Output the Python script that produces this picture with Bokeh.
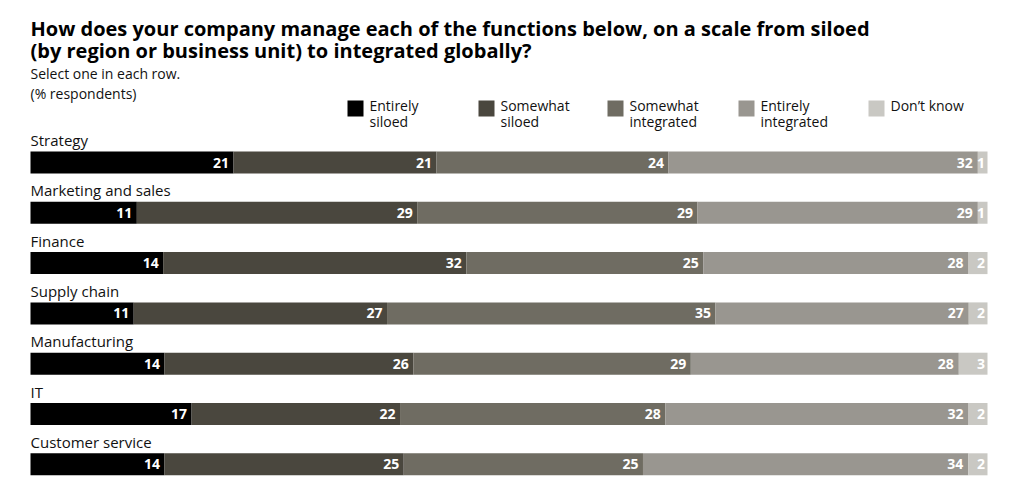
from bokeh.plotting import figure
from bokeh.models import Range1d, Label, ColumnDataSource
from bokeh.core.properties import value
from bokeh.embed import file_html
from bokeh.resources import INLINE

# ---------------- data ----------------
categories = ["Strategy", "Marketing and sales", "Finance", "Supply chain",
              "Manufacturing", "IT", "Customer service"]
series = ["Entirely siloed", "Somewhat siloed", "Somewhat integrated",
          "Entirely integrated", "Don't know"]
legend_lines = [["Entirely", "siloed"], ["Somewhat", "siloed"],
                ["Somewhat", "integrated"], ["Entirely", "integrated"],
                ["Don\u2019t know"]]
entirely_siloed = [21, 11, 14, 11, 14, 17, 14]
somewhat_siloed = [21, 29, 32, 27, 26, 22, 25]
somewhat_integrated = [24, 29, 25, 35, 29, 28, 25]
entirely_integrated = [32, 29, 28, 27, 28, 32, 34]
dont_know = [1, 1, 2, 2, 3, 2, 2]
title_lines = ["How does your company manage each of the functions below, on a scale from siloed",
               "(by region or business unit) to integrated globally?"]
subtitle_lines = ["Select one in each row.", "(% respondents)"]

# ---------------- styles ----------------
colors = ["#000000", "#4a473e", "#6f6c62", "#999690", "#c9c8c3"]
label_pad = [-4.5, -4.5, -4.5, -5, -2.5]
FONT = "Open Sans"
W, H = 1005, 480
BAR_L, BAR_R = 30, 987          # canvas px of 0% and 100%
PX = (BAR_R - BAR_L) / 100.0
ROW0, ROW_STEP, BAR_H = 162.0, 50.3, 22

p = figure(width=W, height=H, output_backend="svg", toolbar_location=None,
           x_range=Range1d(-BAR_L / PX, (W - BAR_L) / PX),
           y_range=Range1d(H, 0), min_border=0)
p.axis.visible = False
p.grid.visible = False
p.outline_line_color = None
p.background_fill_color = "white"
p.border_fill_color = "white"

all_series = [entirely_siloed, somewhat_siloed, somewhat_integrated,
              entirely_integrated, dont_know]
totals = [sum(s[i] for s in all_series) for i in range(len(categories))]
ys = [ROW0 + i * ROW_STEP for i in range(len(categories))]

cum = [0.0] * len(categories)
for k, vals in enumerate(all_series):
    left = cum[:]
    right = [cum[i] + vals[i] * 100.0 / totals[i] for i in range(len(categories))]
    cum = right
    src = ColumnDataSource(dict(y=ys, left=left, right=right,
                                lab=[str(v) for v in vals]))
    p.hbar(y="y", left="left", right="right", height=BAR_H, source=src,
           fill_color=colors[k], line_color=None)
    p.text(x="right", y="y", text="lab", source=src, x_offset=label_pad[k],
           text_align="right", text_baseline="middle", text_color="white",
           text_font=value(FONT), text_font_style="bold",
           text_font_size="14px")

# category labels
csrc = ColumnDataSource(dict(x=[0] * len(categories),
                             y=[y - 22.5 for y in ys], t=categories))
p.text(x="x", y="y", text="t", source=csrc, text_align="left",
       text_baseline="middle", text_color="#111111",
       text_font=value(FONT), text_font_size="15px")

# title
for j, line in enumerate(title_lines):
    p.add_layout(Label(x=0, y=28 + j * 22, text=line, text_font=FONT,
                       text_font_style="bold", text_font_size="20px",
                       text_color="#000000", text_baseline="middle"))
for j, line in enumerate(subtitle_lines):
    p.add_layout(Label(x=0, y=73 + j * 20, text=line, text_font=FONT,
                       text_font_size="14px", text_color="#111111",
                       text_baseline="middle"))

# legend
leg_sq_x = [347, 478, 607, 738, 868]
for k, lines in enumerate(legend_lines):
    x0 = (leg_sq_x[k] - BAR_L) / PX
    x1 = (leg_sq_x[k] + 16 - BAR_L) / PX
    p.quad(left=[x0], right=[x1], top=[100], bottom=[116], fill_color=colors[k],
           line_color=None)
    for j, t in enumerate(lines):
        p.add_layout(Label(x=(leg_sq_x[k] + 22 - BAR_L) / PX, y=105 + j * 16,
                           text=t, text_font=FONT, text_font_size="14px",
                           text_color="#111111", text_baseline="middle"))

open("out.html", "w").write(file_html(p, INLINE))
